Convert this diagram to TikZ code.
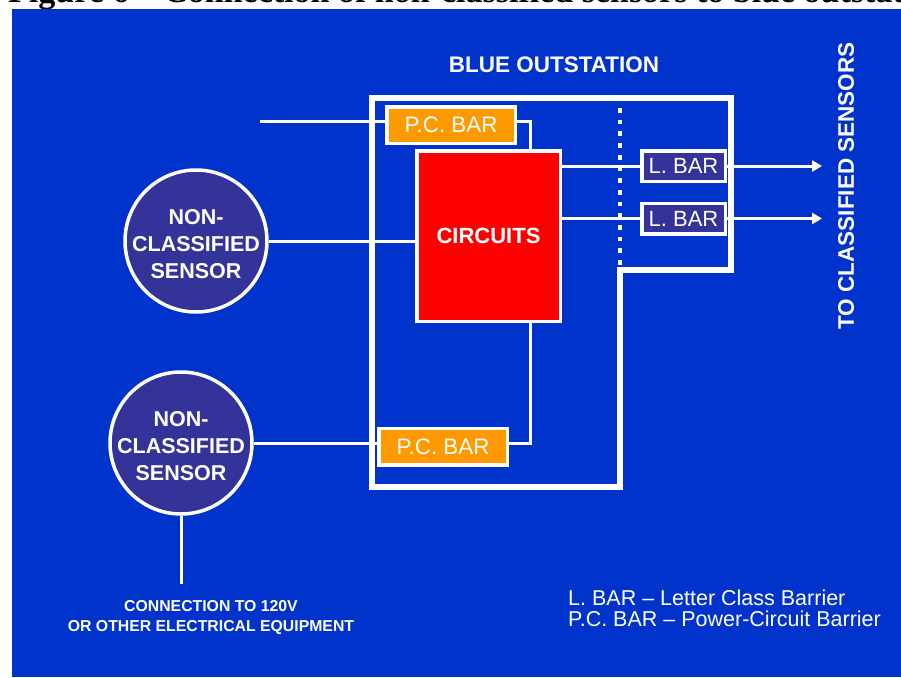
\documentclass[tikz,border=0pt]{standalone}
\usepackage{fontspec}
\setmainfont{Liberation Sans}
\newfontfamily\titlefont{Liberation Serif}
\usetikzlibrary{positioning,arrows.meta}
\definecolor{panelblue}{RGB}{0,51,204}
\definecolor{sensorblue}{RGB}{51,51,153}
\definecolor{barorange}{RGB}{255,153,0}
\definecolor{circred}{RGB}{255,0,0}

\begin{document}
\begin{tikzpicture}[x=1pt, y=-1pt,
    every node/.style={text=white, inner sep=0pt},
    wire/.style={draw=white, line width=3pt},
    sensor/.style={circle, draw=white, line width=3.5pt, fill=sensorblue, minimum size=142pt},
    sensortext/.style={align=center, font=\bfseries\fontsize{21.5}{27}\selectfont},
    pcbar/.style={rectangle, draw=white, line width=3.5pt, fill=barorange, minimum width=128.5pt, minimum height=36.5pt, font=\fontsize{22.4}{24}\selectfont},
    lbar/.style={rectangle, draw=white, line width=3.5pt, fill=sensorblue, minimum width=83.5pt, minimum height=30.5pt, font=\fontsize{22}{24}\selectfont},
    heading/.style={font=\bfseries\fontsize{22.5}{26}\selectfont}]
            % page is 901 x 677, y runs downwards
            \clip (0,0) rectangle (901,677);
            \node[anchor=base west, text=black, font=\titlefont\bfseries\fontsize{34}{34}\selectfont] (title) at (8,3) {Figure 6 – Connection of non-classified sensors to blue outstation};
            \fill[panelblue] (12,9) rectangle (901,677);

            % outstation wall and separator
            \draw[white, line width=6pt] (372,98) -- (731,98) -- (731,270) -- (620,270) -- (620,487) -- (372,487) -- cycle;
            \draw[white, line width=4.5pt, dash pattern=on 4.7pt off 7pt] (620,108) -- (620,265);

            \node[pcbar] (pcbA) at (451,125) {P.C. BAR};
            \node[pcbar] (pcbB) at (443,446.5) {P.C. BAR};
            \node[rectangle, draw=white, line width=3.5pt, fill=circred, minimum width=143.5pt, minimum height=170.5pt, font=\bfseries\fontsize{22}{26}\selectfont] (circ) at (488.5,236) {CIRCUITS};
            \node[lbar] (lbA) at (683.5,166) {L. BAR};
            \node[lbar] (lbB) at (683.5,218.5) {L. BAR};

            \node[sensor] (sensA) at (196,241) {};
            \node[sensortext] (sensAtext) at (196,244) {NON-\\CLASSIFIED\\SENSOR};
            \node[sensor] (sensB) at (181,443) {};
            \node[sensortext] (sensBtext) at (181,446) {NON-\\CLASSIFIED\\SENSOR};

            \coordinate (in) at (260,121);
            \coordinate (busx) at (530,0);
            \coordinate (outA) at (822,166);
            \coordinate (outB) at (822,218.5);
            \coordinate (mains) at (181,584);

            \draw[wire] (in) -- (in -| pcbA.west);
            \draw[wire] (pcbA.east |- in) -| (circ.north -| busx);
            \draw[wire] (sensA.east) -- (sensA.east -| circ.west);
            \draw[wire] (sensB.east) -- (sensB.east -| pcbB.west);
            \draw[wire] (pcbB.east |- sensB) -| (circ.south -| busx);
            \draw[wire] (circ.east |- lbA) -- (lbA.west);
            \draw[wire] (circ.east |- lbB) -- (lbB.west);
            \draw[wire, -{Triangle[length=10pt,width=11pt]}] (lbA.east) -- (outA);
            \draw[wire, -{Triangle[length=10pt,width=11pt]}] (lbB.east) -- (outB);
            \draw[wire] (sensB.south) -- (mains);

            \node[heading] (outst) at (554,65) {BLUE OUTSTATION};
            \node[heading, rotate=90] (tocls) at (846,186) {TO CLASSIFIED SENSORS};
            \node[align=center, font=\bfseries\fontsize{15.8}{20}\selectfont] (mainsnote) at (211,618) {CONNECTION TO 120V\\OR OTHER ELECTRICAL EQUIPMENT};
            \node[anchor=west, align=left, font=\fontsize{21.5}{21}\selectfont] (legend) at (568,608) {L. BAR – Letter Class Barrier\\P.C. BAR – Power-Circuit Barrier};
        \end{tikzpicture}
\end{document}
